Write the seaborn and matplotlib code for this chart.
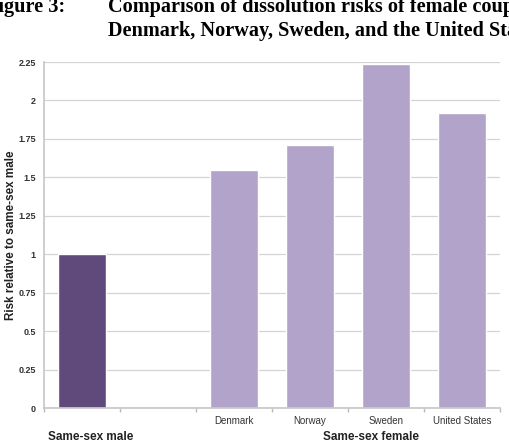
import numpy as np
import pandas as pd
import seaborn as sns
import matplotlib.pyplot as plt

categories = ["Same-sex male", "gap", "Denmark", "Norway", "Sweden", "United States"]
tick_labels = ["", "", "Denmark", "Norway", "Sweden", "United States"]
groups = ["male", "female", "female", "female", "female"]
bar_names = ["Same-sex male", "Denmark", "Norway", "Sweden", "United States"]
risk = [1.0, 1.55, 1.71, 2.24, 1.92]
y_ticks = [0, 0.25, 0.5, 0.75, 1, 1.25, 1.5, 1.75, 2, 2.25]
y_tick_labels = ["0", "0.25", "0.5", "0.75", "1", "1.25", "1.5", "1.75", "2", "2.25"]

df = pd.DataFrame({"name": bar_names, "risk": risk, "group": groups})

sns.set_theme(style="white")
plt.rcParams["font.family"] = ["Liberation Sans", "DejaVu Sans"]

fig = plt.figure(figsize=(5.1, 4.48), dpi=100)
ax = fig.add_axes([44 / 510, 40 / 448, 456 / 510, 346 / 448])

palette = {"male": "#5f4a7b", "female": "#b1a3c9"}
sns.barplot(data=df, x="name", y="risk", hue="group", order=categories,
            palette=palette, width=0.63, dodge=False, legend=False,
            saturation=1, ax=ax)

ax.set_ylim(0, 2.25)
ax.set_xlim(-0.5, 5.5)
ax.set_yticks(y_ticks)
ax.set_yticklabels(y_tick_labels, fontsize=6.5, fontweight="bold", color="#333333")
ax.yaxis.grid(True, color="#d4d4d4", linewidth=0.9)
ax.set_axisbelow(True)
ax.set_xticks(range(len(categories)))
ax.set_xticklabels(tick_labels, fontsize=7, color="#333333")
ax.set_xticks(np.arange(-0.5, 6, 1), minor=True)
ax.tick_params(axis="x", which="major", length=0, pad=6)
ax.tick_params(axis="x", which="minor", length=3, color="#bbbbbb", direction="out", bottom=True)
ax.tick_params(axis="y", length=0, pad=6)
for s in ["top", "right"]:
    ax.spines[s].set_visible(False)
ax.spines["left"].set_color("#c8c8c8")
ax.spines["bottom"].set_color("#c8c8c8")
ax.set_xlabel("")
ax.set_ylabel("Risk relative to same-sex male", fontsize=8.4, fontweight="bold",
              color="#222222", labelpad=1)

fig.text(48 / 510, 1 - 437 / 448, "Same-sex male", fontsize=8.5, fontweight="bold",
         color="#222222", va="center", ha="left")
fig.text(371 / 510, 1 - 437 / 448, "Same-sex female", fontsize=8.5, fontweight="bold",
         color="#222222", va="center", ha="center")

title_kw = dict(fontsize=14.6, fontweight="bold", family="Liberation Serif",
                va="center", ha="left", color="black")
fig.text(-14 / 510, 1 - 7 / 448, "Figure 3:", **title_kw)
fig.text(108 / 510, 1 - 7 / 448, "Comparison of dissolution risks of female couples in",
         **title_kw)
fig.text(108 / 510, 1 - 31 / 448, "Denmark, Norway, Sweden, and the United States",
         **title_kw)

fig.savefig("out.png", dpi=100)
